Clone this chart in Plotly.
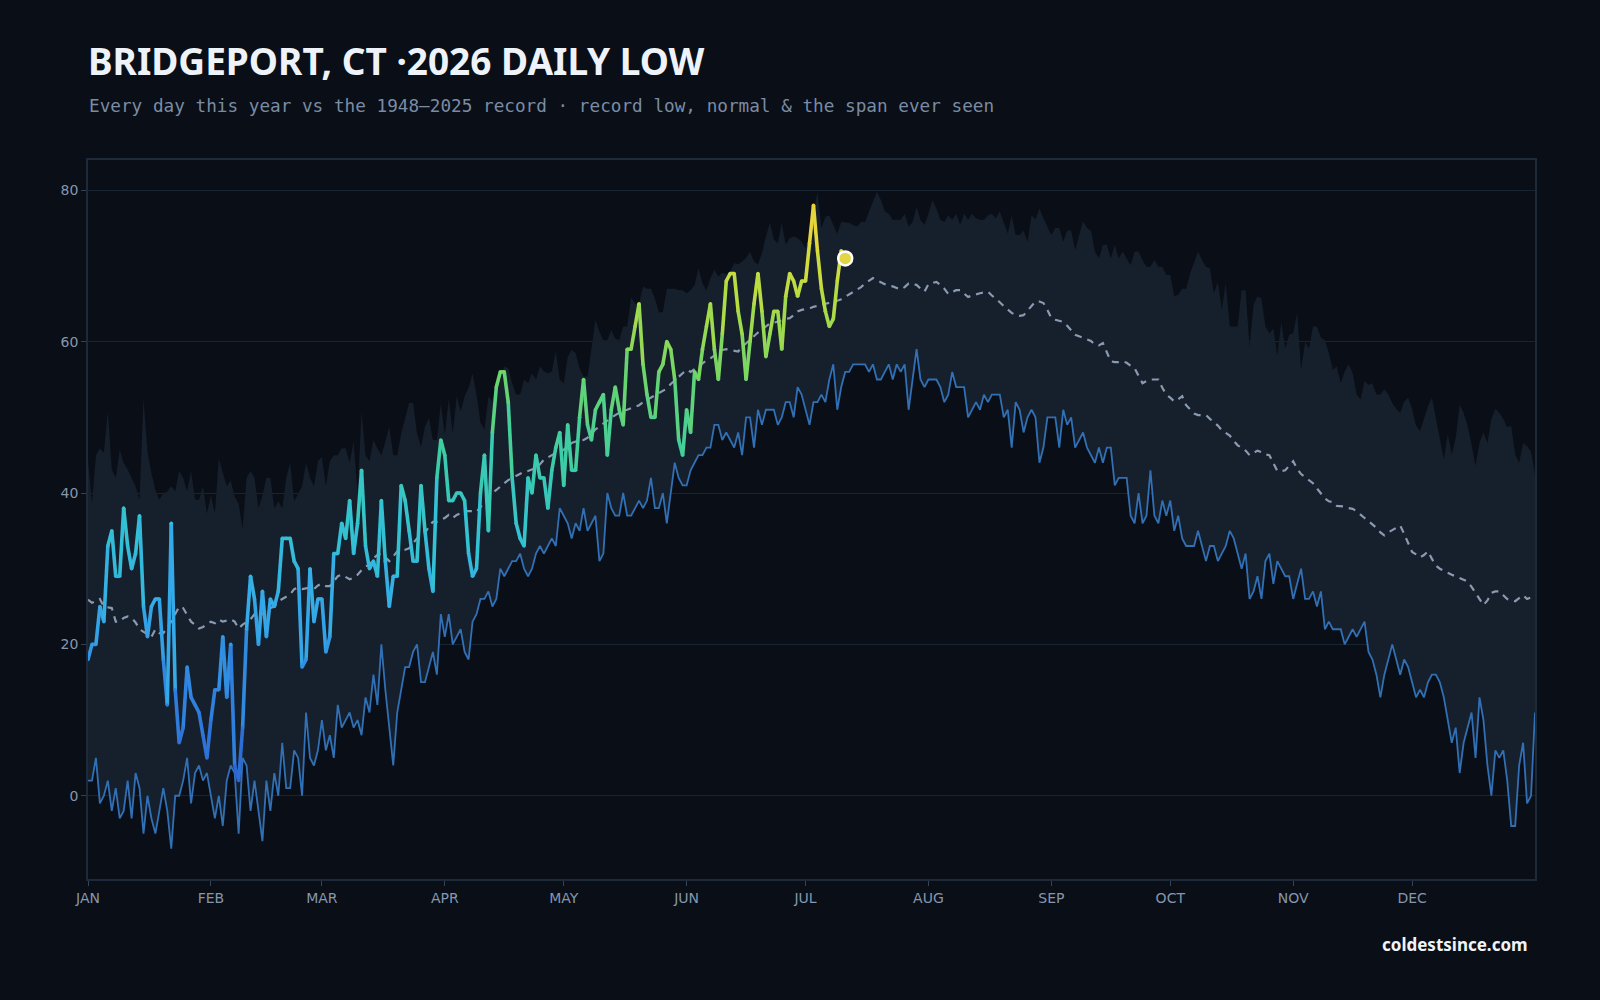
import plotly.graph_objects as go

# ---------------- DATA ----------------
MONTH_START = [0, 31, 59, 90, 120, 151, 181, 212, 243, 273, 304, 334]
MONTH_LABELS = ["JAN", "FEB", "MAR", "APR", "MAY", "JUN", "JUL", "AUG", "SEP", "OCT", "NOV", "DEC"]
Y_TICKS = [0, 20, 40, 60, 80]

# warmest daily low on record (top of the shaded span), day 0..365
record_high_low = [
    44.4, 38.6, 45, 45.9, 45.3, 50.8, 43.1, 42, 45.7, 44, 43.1, 42, 40.9, 39.1, 52.5, 45.5, 42.6, 40.4, 39.1, 40,
    40.2, 40.9, 40.2, 42.9, 42, 40.2, 42.9, 39.1, 39.1, 40.9, 37.3, 39.7, 37.3, 44.6, 42.9, 40.9, 41.7, 39.5, 38.6, 35.3,
    42, 42.9, 42, 38, 39.7, 42, 42, 38, 38.9, 38, 42, 44, 38.9, 40, 40.9, 44, 42, 40.9, 44.2, 44.8,
    40.9, 44.2, 45, 45, 45.9, 45.9, 44, 46.8, 40, 50.8, 45, 44.2, 47, 45.9, 45, 46.8, 48.8, 45, 45, 47.9,
    50.1, 51.9, 51.9, 47.9, 46.1, 48.8, 49.9, 47, 47, 51.9, 47.7, 52.5, 47.9, 52.8, 50.8, 52.8, 53.9, 55.8, 53, 49.3,
    48.4, 52.8, 52.1, 54.3, 55, 56.7, 56.5, 54.5, 53, 53, 55, 54.5, 55.8, 55, 56.7, 56.1, 55.8, 56.1, 58.7, 55,
    54.5, 58, 58.9, 58.5, 56.5, 55.4, 55.4, 58.9, 62.9, 61.3, 60.2, 60.2, 61.5, 60.4, 60.2, 62, 62, 65.9, 65, 65,
    67.3, 67, 67, 65.7, 63.9, 63.9, 67, 67, 67, 66.8, 66.8, 66.4, 66.8, 67.5, 69.7, 67.7, 66.8, 68.4, 69.5, 68.6,
    69.1, 68.9, 69.3, 70.4, 70.2, 70.6, 71.1, 71.9, 70.6, 70.2, 71.7, 73.9, 75.7, 73.5, 73, 75.7, 72.8, 73.7, 73.9, 73.7,
    73.2, 72.3, 74.5, 76.9, 79.8, 75, 76.5, 76.7, 75.4, 74.3, 75.8, 75.7, 75.7, 75.4, 75.2, 75.8, 75.8, 77.2, 78.5, 79.8,
    78.7, 77.2, 76.9, 76.1, 76.1, 76.1, 76.9, 75.2, 75.8, 77.8, 76.1, 75.4, 76.9, 78.7, 77.6, 76.1, 75.8, 76.7, 76.1, 76.9,
    75.4, 76.9, 76.1, 76.9, 76.3, 76.1, 76.1, 76.7, 76.9, 76.3, 77.2, 75.8, 74.3, 76.7, 74.1, 74.1, 74.7, 73.2, 76.7, 76.1,
    77.6, 76.3, 75.2, 74.1, 75, 75, 73.2, 74.7, 74.7, 72.1, 74.1, 75.9, 75, 74.7, 71.9, 71, 72.8, 72.8, 71, 72.8,
    71, 71.9, 71, 70.1, 71.9, 71.9, 70.8, 69.9, 69.9, 70.8, 69.9, 69.9, 68.8, 68.8, 66, 66.2, 67, 67, 69, 70.6,
    71.9, 70.8, 69.9, 69.7, 66.4, 67.9, 64.2, 67.7, 62, 62, 62, 66.8, 66.8, 59.3, 64.9, 66, 65.7, 62, 61.1, 61.7,
    58.2, 62.6, 59.1, 60.9, 61.1, 63.8, 56.3, 60, 59.1, 62, 62, 60.5, 60.2, 58.5, 56.3, 56.7, 54.5, 56.1, 57, 55.9,
    53, 52.4, 54.8, 54.3, 54.5, 53, 53, 53.7, 53, 51.9, 51.1, 50.6, 52.1, 52.6, 51.1, 48.9, 48.2, 49.8, 51.5, 52.6,
    49.8, 46.9, 44.5, 47.8, 45.1, 47.3, 51.7, 50.6, 48.9, 46.4, 43.6, 46.6, 48, 46.6, 49.8, 51.1, 50.6, 49.8, 48.7, 48.9,
    45.1, 44, 46.6, 46.2, 45.5, 42.4,
]

# coldest daily low on record (blue line, bottom of the span), day 0..365
record_low = [
    2, 2, 5, -1, 0, 2, -2, 1, -3, -2, 2, -3, 3, 1, -5, 0, -3, -5, -2, 1,
    -2, -7, 0, 0, 2, 5, -1, 3, 4, 2, 3, 0, -3, 0, -4, 2, 4, 3, -5, 5,
    4, -2, 2, -2, -6, 2, -2, 3, 0, 7, 1, 1, 6, 5, 0, 11, 5, 4, 6, 10,
    6, 8, 5, 12, 9, 10, 11, 9, 10, 8, 13, 11, 16, 12, 20, 14, 9, 4, 11, 14,
    17, 17, 19, 20, 15, 15, 17, 19, 16, 24, 21, 24, 20, 21, 22, 19, 18, 23, 24, 26,
    26, 27, 25, 26, 30, 29, 30, 31, 31, 32, 30, 29, 30, 32, 33, 32, 33, 34, 33, 38,
    37, 36, 34, 36, 35, 38, 35, 36, 37, 31, 32, 40, 38, 37, 37, 40, 37, 37, 38, 39,
    38, 39, 42, 38, 38, 40, 36, 40, 44, 42, 41, 41, 43, 44, 45, 45, 46, 46, 49, 49,
    47, 48, 47, 46, 48, 45, 50, 50, 46, 51, 49, 51, 51, 51, 49, 50, 52, 52, 50, 54,
    53, 51, 49, 52, 52, 53, 52, 55, 57, 51, 54, 56, 56, 57, 57, 57, 57, 56, 57, 55,
    55, 56, 57, 55, 57, 56, 57, 51, 55, 59, 55, 54, 55, 55, 55, 54, 52, 53, 56, 54,
    54, 54, 50, 51, 52, 51, 53, 52, 53, 53, 53, 50, 51, 46, 52, 51, 48, 50, 51, 50,
    44, 46, 50, 50, 50, 46, 51, 49, 50, 46, 47, 48, 46, 45, 44, 46, 44, 46, 46, 41,
    42, 42, 42, 37, 36, 40, 36, 37, 43, 37, 36, 39, 37, 39, 35, 37, 34, 33, 33, 33,
    35, 33, 31, 33, 33, 31, 32, 33, 35, 34, 32, 30, 32, 26, 27, 29, 26, 31, 32, 28,
    31, 30, 29, 29, 26, 28, 30, 26, 26, 27, 25, 27, 22, 23, 22, 22, 22, 20, 21, 22,
    21, 22, 23, 19, 18, 16, 13, 16, 18, 20, 18, 16, 18, 17, 15, 13, 14, 13, 15, 16,
    16, 15, 13, 10, 7, 9, 3, 7, 9, 11, 5, 13, 10, 4, 0, 6, 5, 6, 2, -4,
    -4, 4, 7, -1, 0, 11,
]

# normal daily low (dashed), day 0..365
normal_low = [
    25.9, 25.5, 25.7, 26, 25, 24.9, 24.8, 23, 23, 23.5, 23.7, 23.5, 22.9, 22, 21.7, 21.4, 21, 22, 21.5, 21.5,
    22.3, 23, 24, 25, 24.8, 23.8, 23, 22.6, 22.1, 22.3, 22.6, 23, 22.8, 23.3, 23, 23.2, 23.3, 23, 22.1, 22.6,
    23, 23.3, 24, 23.7, 24, 24.5, 24.8, 25, 25.7, 26, 26.3, 26.6, 27.3, 27.5, 27.3, 27.4, 27.5, 27.3, 27.8, 28,
    27.7, 27.7, 28.4, 29, 29.2, 28.9, 28.6, 28.8, 29.2, 29.8, 30.3, 30.5, 31.4, 31.8, 32, 31.5, 31, 31.6, 32.3, 32.5,
    32.5, 32.7, 33.4, 34, 34.5, 34.7, 35.6, 36.2, 36.2, 36.4, 36.7, 37.1, 36.7, 37.1, 37.3, 37.6, 37.6, 37.6, 37.5, 38.2,
    38.8, 39.4, 40, 40.4, 40.9, 41.3, 41.7, 42, 42.3, 42.6, 42.8, 42.9, 43.1, 43.3, 43.8, 44.4, 44.7, 45, 45.3, 45.3,
    45.7, 46.1, 46.6, 46.8, 46.9, 47, 47.3, 47.9, 48.4, 48.8, 49.2, 49.6, 50, 50.3, 50.6, 50.9, 51, 51.2, 51.4, 51.6,
    52, 52.3, 52.7, 53, 53.3, 53.6, 53.8, 54.4, 54.9, 55.4, 55.9, 56.3, 56, 56.4, 56.8, 57.2, 57.5, 57.8, 58.2, 58.6,
    58.9, 59, 58.9, 58.9, 58.7, 59.3, 59.8, 60.2, 60.7, 61.2, 61.6, 62, 62.4, 62.5, 62.6, 62.8, 63, 63.1, 63.5, 64,
    64.2, 64.3, 64.4, 64.6, 64.8, 64.9, 65, 65.1, 65.2, 65.4, 65.6, 65.9, 66.2, 66.5, 66.8, 67.2, 67.7, 68.1, 68.4, 68.1,
    67.8, 67.6, 67.4, 67.3, 67.1, 66.9, 67.2, 67.7, 67.6, 67.5, 67, 66.6, 67.6, 67.8, 67.9, 67.5, 67, 66.3, 66.5, 66.8,
    66.8, 66.3, 65.9, 66.1, 66.3, 66.4, 66.5, 66.6, 66.1, 65.7, 65.2, 64.7, 64.2, 63.8, 63.5, 63.4, 63.5, 64.1, 64.7, 65.3,
    65.3, 65.1, 64.2, 63.1, 62.9, 62.7, 62.6, 62.1, 61.5, 60.9, 60.7, 60.5, 60.4, 60.1, 59.6, 59.5, 59.8, 58.6, 57.4, 57.3,
    57.3, 57.4, 57.2, 56.8, 56.5, 55.5, 54.5, 54.8, 55, 55, 55, 53.9, 53, 52.6, 52.1, 52.4, 52.8, 51.6, 51, 50.5,
    50.3, 50.3, 50.3, 49.8, 49.4, 48.9, 48.3, 48, 47.6, 46.9, 46.3, 46, 45.6, 45, 45.3, 45.6, 45.4, 45.1, 45, 43.9,
    42.9, 42.9, 43, 43.6, 44.2, 43.2, 42.5, 42.1, 41.7, 41.3, 40.6, 40, 39.3, 38.9, 38.8, 38.3, 38.3, 38.2, 38, 37.9,
    37.6, 37.1, 36.7, 36.3, 35.9, 35.4, 34.8, 34.4, 34.8, 35.1, 35.4, 35.7, 34.6, 33.4, 32.2, 31.9, 31.5, 31.8, 32.3, 31.3,
    30.4, 30, 29.7, 29.4, 29.2, 29, 28.8, 28.6, 28.3, 27.6, 26.8, 26, 25.2, 25.8, 26.8, 27, 27, 26.5, 26, 25.8,
    25.7, 26.1, 26.5, 26, 26.2, 25.8,
]

# 2026 observed daily low, day 0..191
low_2026 = [
    18, 20, 20, 25, 23, 33, 35, 29, 29, 38, 33, 30, 32, 37, 25, 21, 25, 26, 26, 18,
    12, 36, 14, 7, 9, 17, 13, 12, 11, 8, 5, 10, 14, 14, 21, 13, 20, 4, 2, 9,
    22, 29, 26, 20, 27, 21, 26, 25, 27, 34, 34, 34, 31, 30, 17, 18, 30, 23, 26, 26,
    19, 21, 32, 32, 36, 34, 39, 32, 36, 43, 33, 30, 31, 29, 39, 31, 25, 29, 29, 41,
    39, 35, 31, 31, 41, 35, 30, 27, 42, 47, 45, 39, 39, 40, 40, 39, 32, 29, 30, 40,
    45, 35, 48, 54, 56, 56, 52, 42, 36, 34, 33, 42, 40, 45, 42, 42, 38, 43, 46, 48,
    41, 49, 43, 43, 50, 55, 49, 47, 51, 52, 53, 45, 51, 54, 51, 49, 59, 59, 62, 65,
    57, 53, 50, 50, 56, 57, 60, 59, 55, 47, 45, 51, 48, 56, 55, 59, 62, 65, 59, 55,
    61, 68, 69, 69, 64, 61, 55, 60, 65, 69, 64, 58, 61, 64, 64, 59, 66, 69, 68, 66,
    68, 68, 73, 78, 72, 67, 64, 62, 63, 68, 72, 71,
]

# ---------------- STYLE ----------------
BG = "#0a0e16"
BAND = "#161f2c"
GRID = "#192433"
FRAME = "#1e2a3a"
TICK_TXT = "#8597ae"
LOW_BLUE = "#3170b5"
NORMAL_C = "#8a9ab0"

# colour ramp for this year's line (by temperature)
RAMP = [(0, (44, 95, 208)), (15, (48, 136, 224)), (25, (53, 170, 232)), (35, (51, 194, 212)),
        (45, (60, 205, 165)), (55, (108, 213, 107)), (65, (176, 220, 69)), (72, (220, 220, 60)),
        (80, (245, 204, 58))]


def ramp_color(v):
    if v <= RAMP[0][0]:
        c = RAMP[0][1]
    elif v >= RAMP[-1][0]:
        c = RAMP[-1][1]
    else:
        for (a, ca), (b, cb) in zip(RAMP[:-1], RAMP[1:]):
            if a <= v <= b:
                t = (v - a) / (b - a)
                c = tuple(ca[i] + (cb[i] - ca[i]) * t for i in range(3))
                break
    return "rgb(%d,%d,%d)" % tuple(int(round(x)) for x in c)


days = list(range(len(record_low)))
days_2026 = list(range(len(low_2026)))

fig = go.Figure()

# span ever seen
fig.add_trace(go.Scatter(x=days, y=record_high_low, mode="lines", line=dict(width=0, color=BAND),
                         hoverinfo="skip", showlegend=False))
fig.add_trace(go.Scatter(x=days, y=record_low, mode="lines", fill="tonexty", fillcolor=BAND,
                         line=dict(width=1.8, color=LOW_BLUE), hoverinfo="skip", showlegend=False))
# normal
fig.add_trace(go.Scatter(x=days, y=normal_low, mode="lines",
                         line=dict(width=2.2, color=NORMAL_C, dash="7px,6px"),
                         hoverinfo="skip", showlegend=False))

# this year's line, coloured segment by segment
for i in range(len(low_2026) - 1):
    mid = (low_2026[i] + low_2026[i + 1]) / 2
    fig.add_trace(go.Scatter(x=days_2026[i:i + 2], y=low_2026[i:i + 2], mode="lines",
                             line=dict(width=3.6, color=ramp_color(mid)),
                             hoverinfo="skip", showlegend=False))
# joint fillers
fig.add_trace(go.Scatter(x=days_2026, y=low_2026, mode="markers",
                         marker=dict(size=3.6, color=[ramp_color(v) for v in low_2026], line=dict(width=0)),
                         hoverinfo="skip", showlegend=False))
# latest day
fig.add_trace(go.Scatter(x=[days_2026[-1]], y=[low_2026[-1]], mode="markers",
                         marker=dict(size=14, color="#e3d543", line=dict(width=2.5, color="#ffffff")),
                         hoverinfo="skip", showlegend=False))

W, H = 1600, 1000
ML, MR, MT, MB = 88, 65, 160, 121
PW, PH = W - ML - MR, H - MT - MB


def px_x(x):
    return (x - ML) / PW


def px_y(y):
    return (H - MB - y) / PH


fig.update_layout(
    width=W, height=H,
    margin=dict(l=ML, r=MR, t=MT, b=MB, pad=0),
    paper_bgcolor=BG, plot_bgcolor=BG,
    showlegend=False,
    title=dict(text="BRIDGEPORT, CT ·2026 DAILY LOW", xref="container", yref="container",
               x=88 / W, xanchor="left", y=1 - 62 / H, yanchor="middle",
               font=dict(family="Noto Sans", size=37, color="#eef3fa", weight=700)),
    annotations=[
        dict(text="Every day this year vs the 1948–2025 record · record low, normal &amp; the span ever seen",
             xref="paper", yref="paper", x=px_x(87), y=px_y(106), xanchor="left", yanchor="middle",
             showarrow=False, font=dict(family="DejaVu Sans Mono", size=17.7, color="#7a8ca4")),
        dict(text="coldestsince.com", xref="paper", yref="paper", x=px_x(1530), y=px_y(944),
             xanchor="right", yanchor="middle", showarrow=False,
             font=dict(family="Noto Sans", size=17, color="#f0f4f8", weight=700)),
    ],
    xaxis=dict(range=[0, len(record_low) - 1], tickvals=MONTH_START, ticktext=MONTH_LABELS,
               showgrid=False, zeroline=False, ticks="outside", ticklen=5, tickcolor="#33445a",
               showline=True, linecolor=FRAME, linewidth=1.5, mirror=True,
               tickfont=dict(family="DejaVu Sans", size=14, color=TICK_TXT)),
    yaxis=dict(range=[-11, 84], tickvals=Y_TICKS, showgrid=True, gridcolor=GRID, gridwidth=1,
               zeroline=False, ticks="outside", ticklen=5, tickcolor="#33445a",
               showline=True, linecolor=FRAME, linewidth=1.5, mirror=True,
               tickfont=dict(family="DejaVu Sans", size=14, color=TICK_TXT)),
)

fig.write_html("out.html")
